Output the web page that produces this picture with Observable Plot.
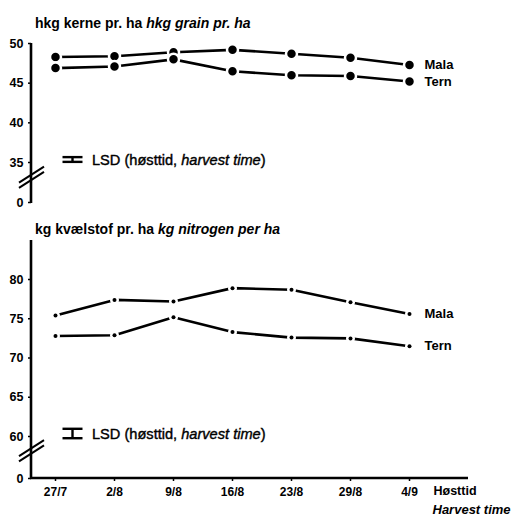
<!DOCTYPE html>
<html><head><meta charset="utf-8">
<script src="https://cdn.jsdelivr.net/npm/d3@7"></script>
<script src="https://cdn.jsdelivr.net/npm/@observablehq/plot@0.6"></script>
<style>
body{margin:0;background:#fff;}
#wrap{position:relative;width:515px;height:520px;font-family:"Liberation Sans",Arial,sans-serif;color:#000;}
.title{position:absolute;left:35px;font-size:14px;font-weight:bold;white-space:nowrap;line-height:1;}
.panel{position:absolute;left:0;}
</style></head><body>
<div id="wrap">
  <div class="panel" id="p1" style="top:0px"></div>
  <div class="panel" id="p2" style="top:215px"></div>
  <div class="title" id="t1" style="top:16px">hkg kerne pr. ha <i>hkg grain pr. ha</i></div>
  <div class="title" id="t2" style="top:222px">kg kvælstof pr. ha <i>kg nitrogen per ha</i></div>
</div>
<script>
const harvestDates = ["27/7","2/8","9/8","16/8","23/8","29/8","4/9"];
const seriesNames = ["Mala","Tern"];
const grainMala = [48.3,48.4,48.9,49.2,48.7,48.2,47.3];
const grainTern = [46.9,47.1,48.0,46.5,46.0,45.9,45.2];
const nitrogenMala = [75.4,77.4,77.2,78.9,78.7,77.1,75.6];
const nitrogenTern = [72.8,72.9,75.2,73.3,72.6,72.5,71.5];
const grainTicks = [0,35,40,45,50];
const nitrogenTicks = [0,60,65,70,75,80];
const lsdGrain = 0.6;
const lsdNitrogen = 1.2;
const lsdLabel = ["LSD (høsttid, ", "harvest time", ")"];

const NS = "http://www.w3.org/2000/svg";

function rowsOf(a, b) {
  const rows = [];
  [a, b].forEach((vals, s) => vals.forEach((v, i) => rows.push({date: harvestDates[i], variety: seriesNames[s], value: v, last: i === vals.length - 1})));
  return rows;
}

// axis lines, axis break and LSD indicator, all placed through the plot's y scale and frame
function decorations(lsd, baseTick, breakFrac, withXAxis) {
  return (index, scales, values, dimensions, context) => {
    const doc = (context && context.document) || document;
    const y = scales.y;
    const g = doc.createElementNS(NS, "g");
    const mk = (tag, attrs) => { const e = doc.createElementNS(NS, tag); for (const k in attrs) e.setAttribute(k, attrs[k]); g.appendChild(e); return e; };
    const x0 = dimensions.marginLeft;
    const x1 = dimensions.width - dimensions.marginRight;
    const yTop = dimensions.marginTop;
    // y axis line
    mk("line", {x1: x0, x2: x0, y1: yTop, y2: y(0) + 1, stroke: "#000", "stroke-width": 2.6});
    if (withXAxis) mk("line", {x1: x0 - 1, x2: x1, y1: y(0), y2: y(0), stroke: "#000", "stroke-width": 2.6});
    // axis break
    const yb = y(0) + (y(baseTick) - y(0)) * breakFrac;
    for (const off of [-2.6, 2.6]) {
      mk("line", {x1: x0 - 12, y1: yb + off + 8, x2: x0 + 13, y2: yb + off - 8, stroke: "#000", "stroke-width": 2});
    }
    // LSD bar
    const slope = Math.abs(y(baseTick + 1) - y(baseTick));
    const h = lsd * slope;
    const cy = y(baseTick) - 2.5;
    const cx = x0 + 41.5;
    mk("line", {x1: cx - 10, x2: cx + 10, y1: cy - h / 2, y2: cy - h / 2, stroke: "#000", "stroke-width": 2.4});
    mk("line", {x1: cx - 10, x2: cx + 10, y1: cy + h / 2, y2: cy + h / 2, stroke: "#000", "stroke-width": 2.4});
    mk("line", {x1: cx, x2: cx, y1: cy - h / 2, y2: cy + h / 2, stroke: "#000", "stroke-width": 2.4});
    const t = mk("text", {x: x0 + 61, y: cy, dy: "0.35em", "text-anchor": "start", "font-size": 14.6, "font-family": "Liberation Sans, Arial, sans-serif", fill: "#000", stroke: "#000", "stroke-width": 0.4});
    lsdLabel.forEach((s, i) => {
      const sp = doc.createElementNS(NS, "tspan");
      sp.textContent = s;
      if (i === 1) sp.setAttribute("font-style", "italic");
      t.appendChild(sp);
    });
    return g;
  };
}

const xOpts = {type: "point", domain: harvestDates, range: [53, 411], padding: 0};

// Top panel: grain yield
const grainRows = rowsOf(grainMala, grainTern);
const grainChart = Plot.plot({
  width: 515, height: 215,
  marginLeft: 31, marginRight: 47, marginTop: 43, marginBottom: 13,
  style: {fontFamily: "Liberation Sans, Arial, sans-serif", background: "white", color: "black"},
  x: {...xOpts, axis: null},
  y: {type: "linear", domain: [0, 35, 50], range: [202, 162, 43]},
  marks: [
    Plot.axisY({ticks: grainTicks, tickSize: 3, tickPadding: 5, fontSize: 12.5, fontWeight: "bold", strokeWidth: 1.5, label: null}),
    decorations(lsdGrain, grainTicks[1], 0.62, false),
    Plot.line(grainRows, {x: "date", y: "value", z: "variety", stroke: "black", strokeWidth: 2.6}),
    Plot.dot(grainRows, {x: "date", y: "value", r: 5.5, fill: "black", stroke: "white", strokeWidth: 2.5}),
    Plot.text(grainRows.filter(d => d.last), {x: "date", y: "value", text: "variety", textAnchor: "start", dx: 15, fontSize: 13, fontWeight: "bold"})
  ]
});
document.getElementById("p1").appendChild(grainChart);

// Bottom panel: nitrogen uptake
const nRows = rowsOf(nitrogenMala, nitrogenTern);
const nitrogenChart = Plot.plot({
  width: 515, height: 305,
  marginLeft: 31, marginRight: 47, marginTop: 25, marginBottom: 42,
  style: {fontFamily: "Liberation Sans, Arial, sans-serif", background: "white", color: "black"},
  x: {...xOpts},
  y: {type: "linear", domain: [0, 60, 80], range: [263, 221, 64]},
  marks: [
    Plot.axisY({ticks: nitrogenTicks, tickSize: 3, tickPadding: 5, fontSize: 12.5, fontWeight: "bold", strokeWidth: 1.5, label: null}),
    Plot.axisX({tickSize: 3, tickPadding: 6, fontSize: 12, fontWeight: "bold", strokeWidth: 1.5, label: null}),
    decorations(lsdNitrogen, nitrogenTicks[1], 0.65, true),
    Plot.line(nRows, {x: "date", y: "value", z: "variety", stroke: "black", strokeWidth: 2.6}),
    Plot.dot(nRows, {x: "date", y: "value", r: 4.5, fill: "white"}),
    Plot.dot(nRows, {x: "date", y: "value", r: 2, fill: "black"}),
    Plot.text(nRows.filter(d => d.last), {x: "date", y: "value", text: "variety", textAnchor: "start", dx: 15, fontSize: 13, fontWeight: "bold"}),
    Plot.text(["Høsttid"], {frameAnchor: "bottom-right", textAnchor: "start", dx: -35, dy: 16, fontSize: 12.5, fontWeight: "bold"}),
    Plot.text(["Harvest time"], {frameAnchor: "bottom-right", textAnchor: "start", dx: -36, dy: 35, fontSize: 13, fontWeight: "bold", fontStyle: "italic"})
  ]
});
document.getElementById("p2").appendChild(nitrogenChart);
</script>
</body></html>
